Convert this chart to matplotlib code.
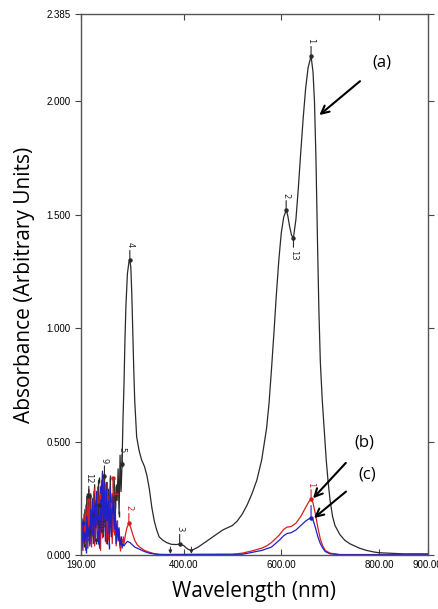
import matplotlib
matplotlib.use('Agg')
import matplotlib.pyplot as plt

# noisy region (190-276 nm, every 2 nm)
noise_wl = list(range(190, 278, 2))
black_noise = [0.10, 0.02, 0.16, 0.05, 0.20, 0.08, 0.26, 0.03, 0.29, 0.10, 0.27, 0.05, 0.18, 0.12, 0.31,
               0.06, 0.24, 0.15, 0.33, 0.04, 0.28, 0.10, 0.37, 0.08, 0.35, 0.18, 0.32, 0.06, 0.29, 0.14,
               0.34, 0.10, 0.27, 0.20, 0.33, 0.15, 0.30, 0.24, 0.38, 0.18, 0.44, 0.28, 0.40, 0.60]
red_noise = [0.04, 0.12, 0.02, 0.18, 0.06, 0.22, 0.03, 0.25, 0.10, 0.27, 0.05, 0.20, 0.08, 0.28, 0.04,
             0.24, 0.12, 0.30, 0.06, 0.26, 0.02, 0.33, 0.09, 0.35, 0.14, 0.30, 0.05, 0.32, 0.08, 0.26,
             0.12, 0.22, 0.05, 0.34, 0.10, 0.18, 0.04, 0.14, 0.06, 0.10, 0.03, 0.08, 0.05, 0.07]
blue_noise = [0.08, 0.03, 0.14, 0.06, 0.10, 0.02, 0.17, 0.08, 0.12, 0.04, 0.20, 0.10, 0.25, 0.05, 0.22,
              0.12, 0.28, 0.06, 0.18, 0.03, 0.30, 0.10, 0.36, 0.12, 0.32, 0.06, 0.28, 0.15, 0.24, 0.04,
              0.30, 0.08, 0.20, 0.26, 0.10, 0.22, 0.05, 0.15, 0.08, 0.12, 0.04, 0.07, 0.03, 0.05]

# smooth part of the spectra
black_wl = [278, 280, 282, 285, 288, 290, 292, 294, 296, 298, 300, 304, 309, 314, 320, 325, 330, 335, 340,
            345, 350, 357, 365, 375, 385, 392, 400, 405, 410, 415, 420, 430, 440, 450, 460, 470, 480, 490,
            500, 510, 520, 530, 540, 550, 560, 570, 575, 580, 585, 590, 595, 600, 605, 610, 613, 617, 621,
            625, 630, 635, 640, 645, 650, 655, 661, 665, 668, 671, 674, 677, 680, 684, 688, 692, 696, 700,
            705, 710, 720, 730, 740, 750, 760, 775, 790, 800, 850, 900]
black_abs = [0.75, 0.95, 1.10, 1.24, 1.29, 1.30, 1.27, 1.15, 0.98, 0.82, 0.68, 0.52, 0.46, 0.42, 0.39, 0.35,
             0.29, 0.21, 0.15, 0.11, 0.08, 0.066, 0.055, 0.047, 0.046, 0.048, 0.042, 0.032, 0.024, 0.021,
             0.024, 0.035, 0.05, 0.065, 0.08, 0.095, 0.11, 0.12, 0.13, 0.15, 0.18, 0.22, 0.27, 0.33, 0.42,
             0.56, 0.67, 0.82, 0.98, 1.15, 1.30, 1.42, 1.49, 1.52, 1.50, 1.45, 1.41, 1.40, 1.48, 1.62, 1.78,
             1.93, 2.06, 2.15, 2.20, 2.13, 2.00, 1.75, 1.40, 1.08, 0.85, 0.68, 0.55, 0.42, 0.32, 0.24, 0.17,
             0.13, 0.09, 0.065, 0.05, 0.04, 0.03, 0.02, 0.013, 0.01, 0.005, 0.005]

red_wl = [278, 281, 284, 288, 292, 296, 300, 305, 310, 320, 330, 340, 350, 360, 500, 520, 540, 560, 570,
          580, 596, 605, 612, 620, 630, 640, 650, 657, 661, 665, 670, 675, 680, 685, 690, 700, 720, 900]
red_abs = [0.05, 0.09, 0.12, 0.14, 0.12, 0.09, 0.065, 0.045, 0.035, 0.02, 0.012, 0.006, 0.003, 0.002, 0.003,
           0.008, 0.018, 0.03, 0.04, 0.055, 0.088, 0.113, 0.123, 0.125, 0.14, 0.17, 0.21, 0.237, 0.245, 0.23,
           0.18, 0.12, 0.07, 0.04, 0.02, 0.008, 0.002, 0.002]

blue_wl = [278, 281, 285, 290, 295, 300, 310, 320, 330, 340, 350, 520, 560, 580, 596, 605, 612, 620, 630,
           640, 650, 657, 661, 665, 670, 675, 680, 685, 690, 700, 720, 900]
blue_abs = [0.04, 0.05, 0.06, 0.055, 0.045, 0.035, 0.025, 0.015, 0.008, 0.004, 0.002, 0.003, 0.02, 0.035,
            0.065, 0.085, 0.095, 0.098, 0.11, 0.13, 0.15, 0.16, 0.163, 0.155, 0.12, 0.08, 0.05, 0.03, 0.015,
            0.005, 0.001, 0.001]

# peak picks: (wavelength, absorbance, label, above/below)
black_peaks = [(661, 2.20, '1', 1), (610, 1.52, '2', 1), (625, 1.40, '13', -1), (290, 1.30, '4', 1),
               (392, 0.048, '3', 1), (274, 0.40, '5', 1), (238, 0.35, '9', 1), (206, 0.26, '12', 1),
               (226, 0.22, '10', -1)]
red_peaks = [(661, 0.245, '1', 1), (288, 0.14, '2', 1), (256, 0.34, '4', -1)]
blue_peaks = [(661, 0.163, '', 1), (194, 0.14, '8', -1)]

black_col = '#2a2a2a'
red_col = '#d42020'
blue_col = '#2020c8'

fig = plt.figure(figsize=(4.39, 6.09), dpi=100)
ax = fig.add_axes([0.1845, 0.0887, 0.790, 0.888])

ax.plot(noise_wl + black_wl, black_noise + black_abs, color=black_col, lw=0.9)
ax.plot(noise_wl + red_wl, red_noise + red_abs, color=red_col, lw=0.9)
ax.plot(noise_wl + blue_wl, blue_noise + blue_abs, color=blue_col, lw=0.9)
# pick markers scattered over the noisy region
ax.plot(noise_wl[::3], black_noise[::3], '|', ms=4, color=black_col)
ax.plot(noise_wl[1::3], red_noise[1::3], '|', ms=4, color=red_col)
ax.plot(noise_wl[2::3], blue_noise[2::3], '|', ms=4, color=blue_col)

for peaks, col in [(black_peaks, black_col), (red_peaks, red_col), (blue_peaks, blue_col)]:
	for wl, val, lab, sens in peaks:
		ax.plot(wl, val, 'o', ms=2.2, color=col)
		ax.annotate(lab, xy=(wl, val), xytext=(0, 9 * sens), textcoords='offset points',
		            rotation=270, ha='center', va='bottom' if sens > 0 else 'top', fontsize=6, color=col,
		            arrowprops=dict(arrowstyle='-', color=col, lw=0.8, shrinkA=0, shrinkB=0))

# small markers near the baseline
for wl in [373, 416]:
	ax.annotate('', xy=(wl, 0.005), xytext=(wl, 0.035), arrowprops=dict(arrowstyle='-|>', color=black_col,
	            lw=0.7, mutation_scale=5, shrinkA=0, shrinkB=0))

# (a), (b), (c) labels
for txt, xt, yt, xa, ya in [('(a)', 806, 2.17, 678, 1.94), ('(b)', 770, 0.494, 665, 0.25),
                            ('(c)', 776, 0.357, 667, 0.163)]:
	ax.annotate(txt, xy=(xa, ya), xytext=(xt, yt), fontsize=12, family='Open Sans', ha='center', va='center',
	            arrowprops=dict(arrowstyle='->', color='black', lw=1.5, shrinkA=9, shrinkB=0,
	                            mutation_scale=14))

ax.set_xlim(190, 900)
ax.set_ylim(0, 2.385)
ax.set_xticks([190, 400, 600, 800, 900])
ax.set_xticklabels(['190.00', '400.00', '600.00', '800.00', '900.00'])
ax.set_yticks([0, 0.5, 1.0, 1.5, 2.0, 2.385])
ax.set_yticklabels(['0.000', '0.500', '1.000', '1.500', '2.000', '2.385'])
ax.tick_params(axis='x', direction='in', top=True, length=4, labelsize=7, colors='#444', labelcolor='black')
ax.tick_params(axis='y', direction='out', right=True, length=4, labelsize=7, colors='#444', labelcolor='black')
for lab in ax.get_xticklabels() + ax.get_yticklabels():
	lab.set_family('Liberation Sans')
for sp in ax.spines.values():
	sp.set_color('#555')
	sp.set_linewidth(1.0)

ax.set_xlabel('Wavelength (nm)', fontsize=15, family='Open Sans', labelpad=8)
ax.set_ylabel('Absorbance (Arbitrary Units)', fontsize=15, family='Open Sans', labelpad=8)

fig.savefig('out.png', dpi=100)
